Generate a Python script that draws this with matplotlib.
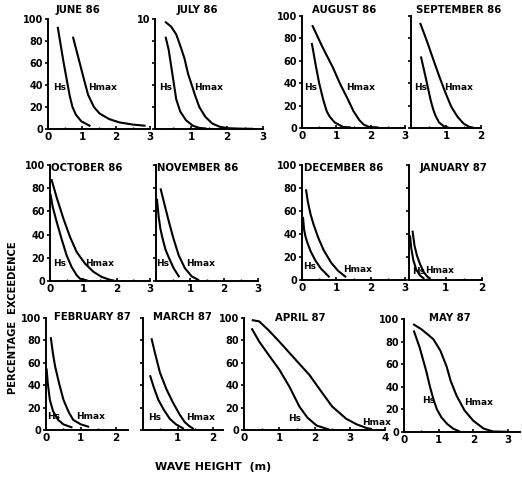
import matplotlib
matplotlib.use('Agg')
import matplotlib.pyplot as plt

# --------------------------------------------------------------------------
# exceedence curves: [wave heights (m)], [percentage exceedence]
# --------------------------------------------------------------------------
months = ['JUNE 86', 'JULY 86', 'AUGUST 86', 'SEPTEMBER 86',
          'OCTOBER 86', 'NOVEMBER 86', 'DECEMBER 86', 'JANUARY 87',
          'FEBRUARY 87', 'MARCH 87', 'APRIL 87', 'MAY 87']

jun_hs = [[0.29, 0.45, 0.58, 0.64, 0.72, 0.82, 0.98, 1.22],
          [92, 62, 40, 30, 20, 13, 7, 3]]
jun_hmax = [[0.74, 0.90, 1.05, 1.18, 1.35, 1.52, 1.80, 2.10, 2.50, 2.84],
            [83, 64, 46, 31, 20, 14, 9, 6, 4, 3]]

jul_hs = [[0.30, 0.38, 0.45, 0.52, 0.59, 0.70, 0.86, 1.05, 1.23, 1.40],
          [83, 72, 57, 42, 27, 16, 8, 3, 1, 0.5]]
jul_hmax = [[0.30, 0.45, 0.59, 0.72, 0.82, 0.92, 1.00, 1.12, 1.23, 1.40, 1.59, 1.80, 2.05, 2.40, 2.70],
            [97, 93, 86, 74, 64, 50, 42, 30, 20, 11, 5, 2, 0.7, 0.3, 0.2]]

aug_hs = [[0.29, 0.40, 0.50, 0.62, 0.72, 0.81, 0.95, 1.19, 1.40],
          [75, 56, 40, 25, 15, 10, 5, 1, 0.5]]
aug_hmax = [[0.31, 0.60, 0.90, 1.10, 1.33, 1.50, 1.67, 1.80, 1.95, 2.20],
            [91, 72, 54, 40, 26, 15, 7, 3, 1, 0.5]]

sep_hs = [[0.29, 0.42, 0.56, 0.63, 0.70, 0.80, 0.94, 1.05],
          [63, 45, 25, 17, 11, 5, 1.5, 0.5]]
sep_hmax = [[0.27, 0.45, 0.65, 0.82, 0.99, 1.15, 1.33, 1.50, 1.66, 1.75],
            [93, 78, 60, 45, 31, 19, 10, 4, 1, 0.5]]

oct_hs = [[0.02, 0.08, 0.20, 0.35, 0.50, 0.65, 0.80, 0.90, 1.10],
          [74, 64, 51, 36, 22, 12, 5, 2, 0.5]]
oct_hmax = [[0.05, 0.20, 0.40, 0.60, 0.80, 1.05, 1.30, 1.55, 1.80, 1.90],
            [87, 72, 54, 38, 25, 15, 8, 3.5, 1, 0.5]]

nov_hs = [[0.03, 0.08, 0.13, 0.19, 0.28, 0.38, 0.52, 0.67],
          [70, 55, 45, 37, 27, 20, 11, 4]]
nov_hmax = [[0.14, 0.25, 0.38, 0.52, 0.67, 0.85, 1.05, 1.24],
            [79, 66, 51, 36, 22, 11, 4, 1]]

dec_hs = [[0.03, 0.06, 0.10, 0.15, 0.25, 0.39, 0.55, 0.78],
          [54, 44, 38, 33, 25, 17, 10, 3]]
dec_hmax = [[0.12, 0.17, 0.25, 0.34, 0.47, 0.63, 0.85, 1.05, 1.26],
            [78, 68, 57, 48, 37, 26, 15, 8, 3]]

jan_hs = [[0.03, 0.06, 0.12, 0.20, 0.30, 0.40],
          [38, 28, 17, 9, 4, 1.5]]
jan_hmax = [[0.10, 0.15, 0.22, 0.30, 0.40, 0.50, 0.57],
            [42, 30, 21, 14, 7, 3, 1.5]]

feb_hs = [[0.02, 0.05, 0.11, 0.20, 0.35, 0.50, 0.73],
          [54, 42, 27, 17, 9, 5, 2.5]]
feb_hmax = [[0.14, 0.20, 0.26, 0.38, 0.50, 0.65, 0.78, 1.00, 1.21],
            [82, 68, 57, 41, 27, 16, 9, 5, 3]]

mar_hs = [[0.21, 0.30, 0.44, 0.60, 0.77, 0.95, 1.15],
          [48, 39, 27, 18, 10, 5, 1.5]]
mar_hmax = [[0.25, 0.35, 0.49, 0.68, 0.87, 1.05, 1.20, 1.33, 1.43],
            [81, 68, 51, 36, 24, 14, 7, 3.5, 1.5]]

apr_hs = [[0.23, 0.43, 0.70, 1.00, 1.30, 1.57, 1.80, 2.06, 2.40],
          [90, 79, 67, 54, 38, 21, 11, 4, 0.5]]
apr_hmax = [[0.25, 0.43, 0.70, 1.00, 1.40, 1.86, 2.20, 2.50, 2.90, 3.20, 3.50, 3.60],
            [98, 97, 89, 79, 65, 49, 34, 21, 10, 5, 1.5, 1]]

may_hs = [[0.29, 0.45, 0.65, 0.75, 0.85, 0.95, 1.08, 1.25, 1.42, 1.60],
          [89, 75, 53, 40, 29, 20, 13, 7, 3, 0.5]]
may_hmax = [[0.29, 0.50, 0.70, 0.85, 1.05, 1.23, 1.35, 1.52, 1.75, 2.00, 2.30, 2.57, 2.95],
            [95, 91, 86, 82, 72, 58, 45, 32, 19, 10, 3, 0.5, 0.2]]

hs_curves = [jun_hs, jul_hs, aug_hs, sep_hs, oct_hs, nov_hs,
             dec_hs, jan_hs, feb_hs, mar_hs, apr_hs, may_hs]
hmax_curves = [jun_hmax, jul_hmax, aug_hmax, sep_hmax, oct_hmax, nov_hmax,
               dec_hmax, jan_hmax, feb_hmax, mar_hmax, apr_hmax, may_hmax]

# x tick labels per panel
xticks = [[0, 1, 2, 3], [1, 2, 3], [0, 1, 2, 3], [1, 2],
          [0, 1, 2, 3], [1, 2, 3], [0, 1, 2, 3], [1, 2],
          [0, 1, 2], [1, 2], [0, 1, 2, 3, 4], [0, 1, 2, 3]]
yticks = [0, 20, 40, 60, 80, 100]

# --------------------------------------------------------------------------
# layout (pixels): left, top(100 %), right, bottom(0 %), x max
# --------------------------------------------------------------------------
W, H = 522, 480
boxes = [(48, 19, 150, 129, 3.0), (155, 19, 263, 129, 3.0), (302, 16, 405, 128, 3.0), (411, 16, 481, 128, 2.0),
         (50, 165, 150, 281, 3.0), (156, 165, 258, 281, 3.0), (302, 165, 405, 280, 3.0), (409, 165, 482, 280, 2.0),
         (46, 318, 128, 430, 2.35), (143, 318, 223, 430, 2.3), (244, 318, 385, 430, 4.0), (404, 319, 520, 432, 3.35)]
ylab_mode = ['full', 'ten', 'full', 'none', 'full', 'none', 'full', 'none', 'full', 'none', 'full', 'full']
title_pos = [(78, 10), (197, 10), (344, 10), (459, 10),
             (87, 168), (198, 168), (344, 168), (453, 168),
             (92, 317), (182, 317), (300, 318), (450, 318)]
hs_lab = [(0.15, 38), (0.11, 38), (0.06, 36), (0.08, 36), (0.09, 15), (0.0, 15),
          (0.03, 12), (0.08, 7), (0.03, 12), (0.15, 11), (1.26, 10), (0.52, 28)]
hmax_lab = [(1.18, 38), (1.10, 38), (1.28, 36), (0.94, 36), (1.05, 15), (0.88, 15),
            (1.19, 9), (0.45, 8), (0.86, 12), (1.24, 11), (3.34, 7), (1.73, 26)]

plt.rcParams['font.family'] = ['Liberation Sans Narrow', 'DejaVu Sans']
plt.rcParams['font.weight'] = 'bold'

fig = plt.figure(figsize=(W / 100, H / 100), dpi=100)

for i in range(12):
    x0, y1, x1, y0, xmax = boxes[i]
    ax = fig.add_axes([x0 / W, 1 - y0 / H, (x1 - x0) / W, (y0 - y1) / H])
    ax.set_xlim(0, xmax)
    ax.set_ylim(0, 100)
    ax.patch.set_alpha(0)
    for s in ['top', 'right']:
        ax.spines[s].set_visible(False)
    for s in ['left', 'bottom']:
        ax.spines[s].set_linewidth(1.4)

    # curves
    ax.plot(hs_curves[i][0], hs_curves[i][1], color='black', lw=1.5, clip_on=False)
    ax.plot(hmax_curves[i][0], hmax_curves[i][1], color='black', lw=1.5, clip_on=False)

    # curve labels
    ax.text(hs_lab[i][0], hs_lab[i][1], 'Hs', fontsize=6.5, fontweight='bold', va='center', ha='left')
    ax.text(hmax_lab[i][0], hmax_lab[i][1], 'Hmax', fontsize=6.5, fontweight='bold', va='center', ha='left')

    # ticks
    ax.set_xticks(xticks[i])
    ax.set_xticklabels([str(t) for t in xticks[i]])
    ax.set_xticks([v + 0.5 for v in range(int(xmax))], minor=True)
    ax.tick_params(axis='x', direction='in', length=2.5, width=1.2, labelsize=7.5, pad=2)
    ax.tick_params(axis='x', which='minor', direction='in', length=1.5, width=1.0)
    ax.set_yticks(yticks)
    if ylab_mode[i] == 'full':
        ax.set_yticklabels([str(t) for t in yticks])
    elif ylab_mode[i] == 'ten':
        ax.set_yticklabels(['', '', '', '', '', '10'])
    else:
        ax.set_yticklabels([''] * len(yticks))
    ax.tick_params(axis='y', direction='out', length=2.5, width=1.2, labelsize=7, pad=1)

    # month title
    fig.text(title_pos[i][0] / W, 1 - title_pos[i][1] / H, months[i],
             fontsize=7.3, fontweight='bold', ha='center', va='center')

# axis titles
fig.text(13 / W, 1 - 318 / H, 'PERCENTAGE  EXCEEDENCE', rotation=90,
         fontsize=7.2, fontweight='bold', ha='center', va='center')
fig.text(213 / W, 1 - 467 / H, 'WAVE HEIGHT  (m)',
         fontsize=8, fontweight='bold', ha='center', va='center')

plt.savefig('out.png', dpi=100)
